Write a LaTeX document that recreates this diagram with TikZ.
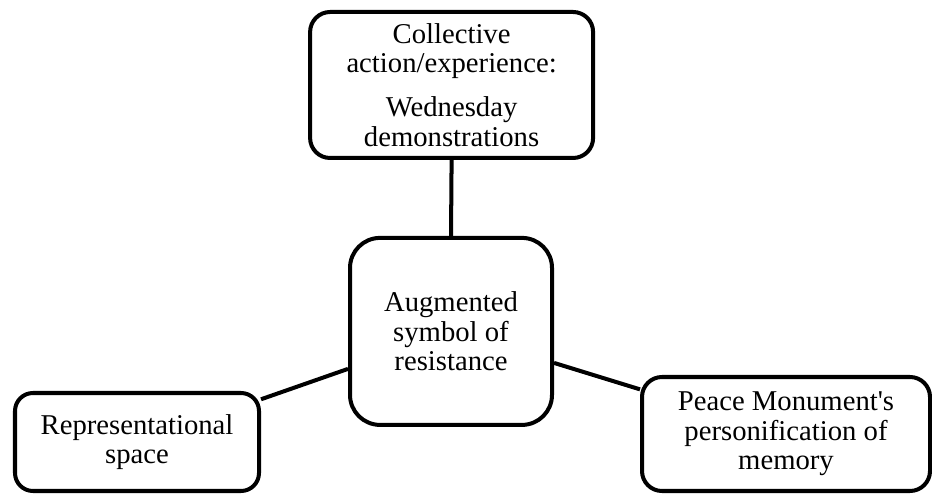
\documentclass[tikz,border=0pt]{standalone}
\usepackage{fontspec}
\setmainfont{Liberation Serif}[Ligatures=TeXOff]
\begin{document}
\begin{tikzpicture}[font=\fontsize{20.4}{21}\selectfont,
	box/.style={draw, line width=2.85pt, align=center, inner sep=0pt, rounded corners=0.5cm},
	link/.style={line width=2.85pt}]
			\useasboundingbox (0,0) rectangle (23.3,12.325);
			\node[box, minimum width=7.075cm, minimum height=3.65cm] (action) at (11.29,10.2) {Collective\\action/experience:\\[10.5pt]Wednesday\\demonstrations};
			\node[box, rounded corners=0.75cm, minimum width=5.05cm, minimum height=4.675cm] (symbol) at (11.275,4.04) {Augmented\\symbol of\\resistance};
			\node[box, rounded corners=0.45cm, minimum width=6.1cm, minimum height=2.45cm] (space) at (3.425,1.275) {Representational\\space};
			\node[box, minimum width=7.2cm, minimum height=2.85cm] (memory) at (19.65,1.475) {Peace Monument's\\personification of\\memory};
			\draw[link] (action.south)--(symbol.north);
			\draw[link] (space.19)--(symbol.200);
			\draw[link] (symbol.-17)--(memory.163);
		\end{tikzpicture}
\end{document}
